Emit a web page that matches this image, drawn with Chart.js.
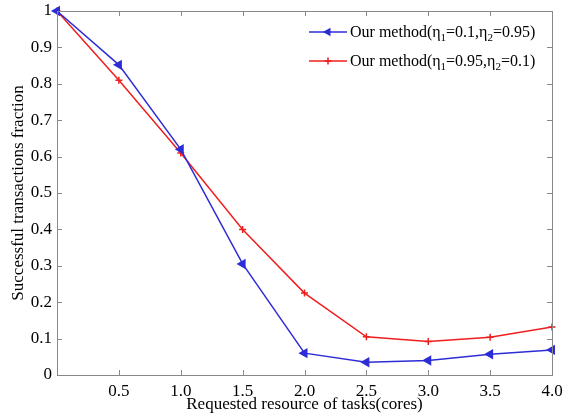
<!DOCTYPE html>
<html>
<head>
<meta charset="utf-8">
<script src="https://cdn.jsdelivr.net/npm/chart.js@4/dist/chart.umd.min.js"></script>
<style>
  html, body { margin: 0; padding: 0; background: #fff; }
  #wrap { width: 563px; height: 419px; }
</style>
</head>
<body>
<div id="wrap"><canvas id="chart" width="563" height="419"></canvas></div>
<script>
// data
const cores = [0, 0.5, 1.0, 1.5, 2.0, 2.5, 3.0, 3.5, 4.0];
const fractionA = [1.0, 0.852, 0.62, 0.305, 0.06, 0.035, 0.04, 0.057, 0.069]; // eta1=0.1, eta2=0.95
const fractionB = [1.0, 0.81, 0.61, 0.40, 0.225, 0.105, 0.092, 0.104, 0.132]; // eta1=0.95, eta2=0.1
const xTicks = [0, 0.5, 1.0, 1.5, 2.0, 2.5, 3.0, 3.5, 4.0];
const yTicks = [0, 0.1, 0.2, 0.3, 0.4, 0.5, 0.6, 0.7, 0.8, 0.9, 1];

const blue = 'rgb(45,45,215)';
const red = 'rgb(240,30,30)';
const font = 'Liberation Serif';

const toPts = ys => cores.map((x, i) => ({ x: x, y: ys[i] }));

// MATLAB style box with inward ticks on all four sides
const boxPlugin = {
  id: 'box',
  afterDatasetsDraw(chart) {
    const { ctx, chartArea: a, scales } = chart;
    ctx.save();
    ctx.strokeStyle = '#888';
    ctx.lineWidth = 1;
    ctx.strokeRect(a.left + 0.5, a.top + 0.5, a.right - a.left, a.bottom - a.top);
    ctx.beginPath();
    const len = 5;
    xTicks.forEach(v => {
      const px = Math.round(scales.x.getPixelForValue(v)) + 0.5;
      ctx.moveTo(px, a.bottom); ctx.lineTo(px, a.bottom - len);
      ctx.moveTo(px, a.top); ctx.lineTo(px, a.top + len);
    });
    yTicks.forEach(v => {
      const py = Math.round(scales.y.getPixelForValue(v)) + 0.5;
      ctx.moveTo(a.left, py); ctx.lineTo(a.left + len, py);
      ctx.moveTo(a.right, py); ctx.lineTo(a.right - len, py);
    });
    ctx.stroke();
    ctx.restore();
  }
};

// legend with subscripts
const legendPlugin = {
  id: 'subLegend',
  afterDraw(chart) {
    const { ctx } = chart;
    const rows = [
      { color: blue, style: 'triangle', rot: -90, parts: ['Our method(η', '1', '=0.1,η', '2', '=0.95)'] },
      { color: red, style: 'cross', rot: 0, parts: ['Our method(η', '1', '=0.95,η', '2', '=0.1)'] }
    ];
    ctx.save();
    rows.forEach((r, i) => {
      const y = 32 + i * 29;
      ctx.strokeStyle = r.color;
      ctx.fillStyle = r.color;
      ctx.lineWidth = 1.5;
      ctx.beginPath(); ctx.moveTo(309, y); ctx.lineTo(347, y); ctx.stroke();
      Chart.helpers.drawPoint(ctx, { pointStyle: r.style, radius: 3.5, rotation: r.rot, borderWidth: 1.5 }, 328, y);
      let x = 350;
      ctx.fillStyle = '#000';
      ctx.textBaseline = 'alphabetic';
      r.parts.forEach((p, k) => {
        const sub = k % 2 === 1;
        ctx.font = (sub ? 11 : 16) + 'px "' + font + '"';
        ctx.fillText(p, x, y + (sub ? 9 : 5));
        x += ctx.measureText(p).width;
      });
    });
    ctx.restore();
  }
};

new Chart(document.getElementById('chart'), {
  type: 'line',
  data: {
    datasets: [
      {
        label: 'Our method(η1=0.1,η2=0.95)',
        data: toPts(fractionA),
        borderColor: blue,
        backgroundColor: blue,
        borderWidth: 1.5,
        pointStyle: 'triangle',
        rotation: -90,
        pointRadius: 4.5,
        pointBorderWidth: 1.5,
        tension: 0
      },
      {
        label: 'Our method(η1=0.95,η2=0.1)',
        data: toPts(fractionB),
        borderColor: red,
        backgroundColor: red,
        borderWidth: 1.5,
        pointStyle: 'cross',
        pointRadius: 3.5,
        pointBorderWidth: 1.5,
        tension: 0
      }
    ]
  },
  options: {
    responsive: false,
    animation: false,
    clip: false,
    layout: { padding: { top: 11, right: 11, left: 0, bottom: 0 } },
    plugins: {
      legend: { display: false },
      tooltip: { enabled: false }
    },
    scales: {
      x: {
        type: 'linear',
        min: 0,
        max: 4,
        afterBuildTicks: s => { s.ticks = xTicks.map(v => ({ value: v })); },
        afterFit: s => { s.height = 44; s.paddingLeft = 0; s.paddingRight = 0; },
        grid: { display: false, drawTicks: false },
        border: { display: false },
        ticks: {
          color: '#000',
          padding: 6,
          maxRotation: 0,
          font: { family: font, size: 17 },
          callback: v => v === 0 ? '' : v.toFixed(1)
        },
        title: {
          display: true,
          text: 'Requested resource of tasks(cores)',
          color: '#000',
          padding: { top: 0, bottom: 4 },
          font: { family: font, size: 17 }
        }
      },
      y: {
        min: 0,
        max: 1,
        afterBuildTicks: s => { s.ticks = yTicks.map(v => ({ value: v })); },
        afterFit: s => { s.width = 57; s.paddingTop = 0; s.paddingBottom = 0; },
        grid: { display: false, drawTicks: false },
        border: { display: false },
        ticks: {
          color: '#000',
          padding: 5,
          font: { family: font, size: 17 },
          callback: v => String(Math.round(v * 10) / 10)
        },
        title: {
          display: true,
          text: 'Successful transactions fraction',
          color: '#000',
          padding: { top: 8, bottom: 0 },
          font: { family: font, size: 17 }
        }
      }
    }
  },
  plugins: [boxPlugin, legendPlugin]
});
</script>
</body>
</html>
